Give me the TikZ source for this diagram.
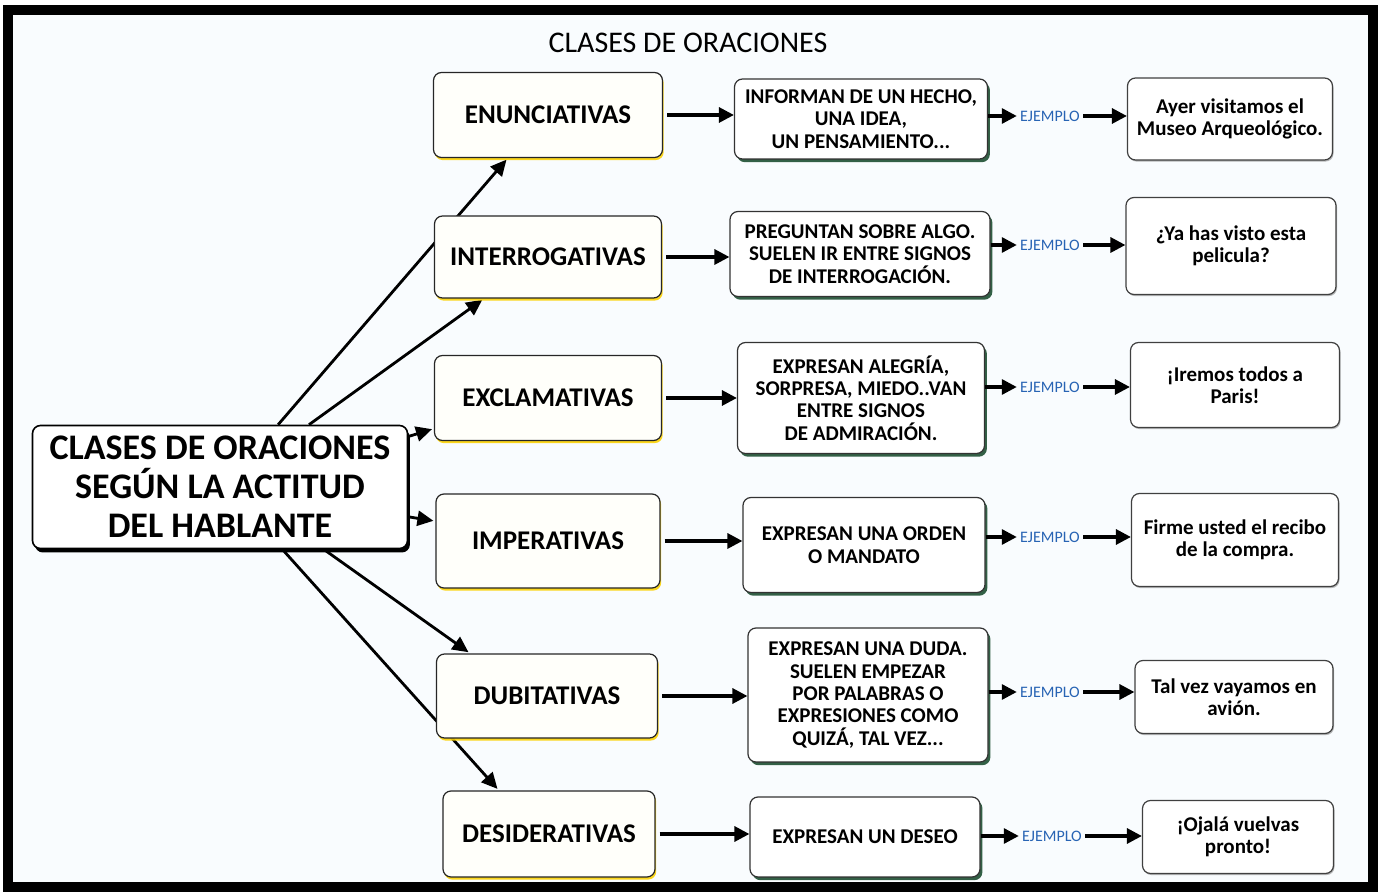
\documentclass[tikz,border=0pt]{standalone}
\usepackage{fontspec}
\setmainfont{Carlito}
\usetikzlibrary{
    arrows.meta,
    shadows,
    backgrounds
}
\definecolor{fondo}{RGB}{249,252,254}
\definecolor{ejazul}{RGB}{40,100,180}
\definecolor{sombraverde}{RGB}{30,80,50}

\tikzset{
    dims/.style 2 args={minimum width=#1pt,minimum height=#2pt},
    central/.style={draw=black,line width=0.8pt,rounded corners=4pt,fill=white,
        align=center,inner sep=2pt,font=\bfseries\fontsize{18}{19.5}\selectfont,
        drop shadow={shadow xshift=1.2pt,shadow yshift=-2pt,fill=black,opacity=1}},
    tipo/.style={draw=black!85,line width=0.6pt,rounded corners=4pt,fill=yellow!2,
        align=center,inner sep=2pt,font=\bfseries\fontsize{13.5}{15}\selectfont,
        drop shadow={shadow xshift=0.6pt,shadow yshift=-1.3pt,fill=yellow!70!orange,opacity=0.9}},
    desc/.style={draw=black!80,line width=0.6pt,rounded corners=4pt,fill=white,
        align=center,inner sep=2pt,font=\bfseries\fontsize{10.5}{11.2}\selectfont,
        drop shadow={shadow xshift=1.2pt,shadow yshift=-1.6pt,fill=sombraverde,opacity=0.9}},
    caso/.style={draw=black!75,line width=0.6pt,rounded corners=4pt,fill=white,
        align=center,inner sep=2pt,font=\bfseries\fontsize{10.5}{11.2}\selectfont,
        drop shadow={shadow xshift=0.5pt,shadow yshift=-0.8pt,fill=black!40,opacity=0.7}},
    ejlabel/.style={text=ejazul,inner sep=1.5pt,font=\fontsize{8}{9}\selectfont},
    flecha/.style={line width=1.6pt,-{Triangle[length=7.5pt,width=7.5pt]}},
    rama/.style={line width=1.4pt,-{Triangle[length=8pt,width=7.5pt]},shorten >=1pt}
}

\begin{document}
\begin{tikzpicture}[x=0.5pt,y=-0.5pt]
\useasboundingbox (0,0) rectangle (1378,892);

% Title
\node[font=\fontsize{15}{18}\selectfont] (titulo) at (688,43) {CLASES DE ORACIONES};

% Central node
\node[central,dims={187.5}{61.5}] (clases) at (220,487)
    {CLASES DE ORACIONES\\SEGÚN LA ACTITUD\\DEL HABLANTE};

% Kinds of sentence
\node[tipo,dims={114.5}{42.5}] (enun) at (548,115) {ENUNCIATIVAS};
\node[tipo,dims={113.5}{41}] (inter) at (548,257) {INTERROGATIVAS};
\node[tipo,dims={113.5}{42.5}] (excl) at (548,398) {EXCLAMATIVAS};
\node[tipo,dims={112}{47}] (imper) at (548,541) {IMPERATIVAS};
\node[tipo,dims={110.5}{42}] (dubit) at (547,696) {DUBITATIVAS};
\node[tipo,dims={106}{43}] (desid) at (549,834) {DESIDERATIVAS};

% Descriptions
\node[desc,dims={126.5}{40}] (inform) at (861,119)
    {INFORMAN DE UN HECHO,\\UNA IDEA,\\UN PENSAMIENTO...};
\node[desc,dims={130}{42.5}] (pregun) at (860,254)
    {PREGUNTAN SOBRE ALGO.\\SUELEN IR ENTRE SIGNOS\\DE INTERROGACIÓN.};
\node[desc,dims={123.5}{55.5}] (alegr) at (861,398)
    {EXPRESAN ALEGRÍA,\\SORPRESA, MIEDO..VAN\\ENTRE SIGNOS\\DE ADMIRACIÓN.};
\node[desc,dims={121}{47.5}] (orden) at (864,545)
    {EXPRESAN UNA ORDEN\\O MANDATO};
\node[desc,dims={120}{67}] (duda) at (868,695)
    {EXPRESAN UNA DUDA.\\SUELEN EMPEZAR\\POR PALABRAS O\\EXPRESIONES COMO\\QUIZÁ, TAL VEZ...};
\node[desc,dims={115}{40}] (deseo) at (865,837) {EXPRESAN UN DESEO};

% EJEMPLO labels
\node[ejlabel] (ej1) at (1050,116) {EJEMPLO};
\node[ejlabel] (ej2) at (1050,245) {EJEMPLO};
\node[ejlabel] (ej3) at (1050,387) {EJEMPLO};
\node[ejlabel] (ej4) at (1050,537) {EJEMPLO};
\node[ejlabel] (ej5) at (1050,692) {EJEMPLO};
\node[ejlabel] (ej6) at (1052,836) {EJEMPLO};

% Examples
\node[caso,dims={102.5}{41}] (ayer) at (1230,119) {Ayer visitamos el\\Museo Arqueológico.};
\node[caso,dims={105}{48.5}] (ya) at (1231,246) {¿Ya has visto esta\\pelicula?};
\node[caso,dims={104.5}{42.5}] (iremos) at (1235,385) {¡Iremos todos a\\Paris!};
\node[caso,dims={103.5}{46.5}] (firme) at (1235,540) {Firme usted el recibo\\de la compra.};
\node[caso,dims={99}{36.5}] (talvez) at (1234,697) {Tal vez vayamos en\\avión.};
\node[caso,dims={95.5}{36.5}] (ojala) at (1238,837) {¡Ojalá vuelvas\\pronto!};

% Frame, background and branches (behind the boxes)
\begin{scope}[on background layer]
\draw[line width=5pt,fill=fondo] (8,10) rectangle (1373,887);
\draw[rama] (clases.47) -- (enun.227);
\draw[rama] (clases.35) -- (inter.213);
\draw[rama] (clases.15) -- (excl.195);
\draw[rama] (clases.-9) -- (imper.170);
\draw[rama] (clases.-31) -- (dubit.151);
\draw[rama] (clases.-45) -- (desid.139);
\end{scope}

% Kind -> description
\draw[flecha,shorten <=2pt] (enun.east) -- (enun.east -| inform.west);
\draw[flecha,shorten <=2pt] (inter.east) -- (inter.east -| pregun.west);
\draw[flecha,shorten <=2pt] (excl.east) -- (excl.east -| alegr.west);
\draw[flecha,shorten <=2pt] (imper.east) -- (imper.east -| orden.west);
\draw[flecha,shorten <=2pt] (dubit.east) -- (dubit.east -| duda.west);
\draw[flecha,shorten <=2pt] (desid.east) -- (desid.east -| deseo.west);

% Description -> EJEMPLO
\draw[flecha] (inform.east |- ej1.west) -- (ej1.west);
\draw[flecha] (pregun.east |- ej2.west) -- (ej2.west);
\draw[flecha] (alegr.east |- ej3.west) -- (ej3.west);
\draw[flecha] (orden.east |- ej4.west) -- (ej4.west);
\draw[flecha] (duda.east |- ej5.west) -- (ej5.west);
\draw[flecha] (deseo.east |- ej6.west) -- (ej6.west);

% EJEMPLO -> example
\draw[flecha] (ej1.east) -- (ej1.east -| ayer.west);
\draw[flecha] (ej2.east) -- (ej2.east -| ya.west);
\draw[flecha] (ej3.east) -- (ej3.east -| iremos.west);
\draw[flecha] (ej4.east) -- (ej4.east -| firme.west);
\draw[flecha] (ej5.east) -- (ej5.east -| talvez.west);
\draw[flecha] (ej6.east) -- (ej6.east -| ojala.west);

\end{tikzpicture}
\end{document}
